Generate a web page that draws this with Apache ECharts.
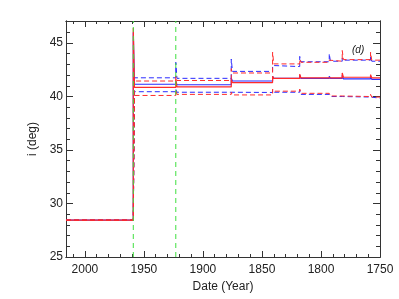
<!DOCTYPE html>
<html><head><meta charset="utf-8">
<script src="https://cdn.jsdelivr.net/npm/echarts@6/dist/echarts.min.js"></script>
<style>html,body{margin:0;padding:0;background:#fff}#c{width:399px;height:299px}</style>
</head><body><div id="c"></div>
<script>
// segment edges (years) and breakpoints
const edges = [2016, 1959, 1923, 1876, 1841, 1818, 1793, 1782, 1758, 1750];
const greenLines = [1959, 1923];
// segment values
const blueSolid = [28.45, 41.15, 41.1, 41.45, 41.7, 41.7, 41.7, 41.65, 41.6];
const redSolid  = [28.45, 40.85, 40.9, 41.3, 41.7, 41.75, 41.75, 41.8, 41.75];
const blueUpper = [28.45, 41.75, 41.7, 42.35, 42.8, 43.25, 43.3, 43.4, 43.3];
const redUpper  = [28.45, 41.45, 41.5, 42.2, 43.05, 43.2, 43.3, 43.45, 43.4];
const blueLower = [28.45, 40.45, 40.4, 40.38, 40.4, 40.2, 40.0, 39.95, 39.85];
const redLower  = [28.45, 40.1, 40.2, 40.15, 40.5, 40.3, 40.05, 40.0, 39.95];
// spikes at breakpoints
const blueSolidSpike = [46.0, 41.4, 41.7, 41.9, 42.0, 41.9, 42.0, 41.9];
const redSolidSpike  = [46.4, 41.6, 41.6, 41.9, 42.1, 41.9, 42.2, 42.05];
const blueUpperSpike = [null, 43.2, 43.5, 42.9, 43.75, 44.0, 43.6, 43.7];
const redUpperSpike  = [null, 41.9, 42.6, 44.15, 43.5, 43.4, 44.3, 44.15];
const blueLowerSpike = [null, 40.7, 40.5, 40.6, 40.6, 40.3, 40.1, 40.1];
const redLowerSpike  = [null, 40.6, 40.4, 40.7, 40.7, 40.4, 40.2, 40.2];
const xTicks = [2000, 1950, 1900, 1850, 1800, 1750];
const yTicks = [25, 30, 35, 40, 45];

function build(vals, sp) {
  const pts = [[edges[0], vals[0]]];
  for (let i = 0; i < sp.length; i++) {
    const bp = edges[i + 1];
    pts.push([bp, vals[i]]);
    if (sp[i] != null) pts.push([bp, sp[i]]);
    pts.push([bp - 1, vals[i + 1]]);
  }
  pts.push([edges[edges.length - 1], vals[vals.length - 1]]);
  return pts;
}
const BLUE = '#2b2bff', RED = '#ff2b2b', GREEN = '#3fe03f', AX = '#333';
function ln(data, color, dashed, w) {
  return {type: 'line', data, symbol: 'none', xAxisIndex: 0, yAxisIndex: 0, animation: false,
    lineStyle: {color, width: w, type: dashed ? [5, 3] : 'solid'}, z: 3};
}
const series = [
  ln(build(blueUpper, blueUpperSpike), BLUE, true, 1),
  ln(build(blueLower, blueLowerSpike), BLUE, true, 1),
  ln(build(blueSolid, blueSolidSpike), BLUE, false, 1.2),
  ln(build(redUpper, redUpperSpike), RED, true, 1),
  ln(build(redLower, redLowerSpike), RED, true, 1),
  ln(build(redSolid, redSolidSpike), RED, false, 1.2)
];
greenLines.forEach(g => series.push({type: 'line', symbol: 'none', animation: false, z: 4,
  data: [[g, 25], [g, 47.06]], lineStyle: {color: GREEN, width: 1, type: [5, 4]}}));

const xBase = {type: 'value', min: 1750, max: 2016, inverse: true, gridIndex: 0,
  axisLine: {show: true, lineStyle: {color: AX, width: 1}}, splitLine: {show: false}};
const yBase = {type: 'value', min: 25, max: 47.06, gridIndex: 0,
  axisLine: {show: true, lineStyle: {color: AX, width: 1}}, splitLine: {show: false}};
const lab = {fontFamily: 'Liberation Sans', fontSize: 12, color: '#222'};
const chart = echarts.init(document.getElementById('c'), null, {renderer: 'canvas'});
chart.setOption({
  animation: false,
  grid: {left: 66, right: 19, top: 21, bottom: 42},
  xAxis: [
    Object.assign({}, xBase, {position: 'bottom', interval: 50,
      axisTick: {inside: true, length: 6, lineStyle: {color: AX}},
      axisLabel: Object.assign({margin: 7, formatter: v => xTicks.includes(v) ? String(v) : ''}, lab),
      name: 'Date (Year)', nameLocation: 'middle', nameGap: 20,
      nameTextStyle: Object.assign({}, lab)}),
    Object.assign({}, xBase, {position: 'bottom', interval: 10,
      axisTick: {inside: true, length: 3, lineStyle: {color: AX}}, axisLabel: {show: false}}),
    Object.assign({}, xBase, {position: 'top', interval: 50,
      axisTick: {inside: true, length: 6, lineStyle: {color: AX}}, axisLabel: {show: false}}),
    Object.assign({}, xBase, {position: 'top', interval: 10,
      axisTick: {inside: true, length: 3, lineStyle: {color: AX}}, axisLabel: {show: false}})
  ],
  yAxis: [
    Object.assign({}, yBase, {position: 'left', interval: 5,
      axisTick: {inside: true, length: 7, lineStyle: {color: AX}},
      axisLabel: Object.assign({margin: 3, formatter: v => yTicks.includes(v) ? String(v) : ''}, lab),
      name: 'i (deg)', nameLocation: 'middle', nameGap: 22, nameRotate: 90,
      nameTextStyle: Object.assign({}, lab)}),
    Object.assign({}, yBase, {position: 'left', interval: 1,
      axisTick: {inside: true, length: 4, lineStyle: {color: AX}}, axisLabel: {show: false}}),
    Object.assign({}, yBase, {position: 'right', interval: 5,
      axisTick: {inside: true, length: 7, lineStyle: {color: AX}}, axisLabel: {show: false}}),
    Object.assign({}, yBase, {position: 'right', interval: 1,
      axisTick: {inside: true, length: 4, lineStyle: {color: AX}}, axisLabel: {show: false}})
  ],
  graphic: [{type: 'text', left: 352, top: 45, z: 10,
    style: {text: '(d)', fontFamily: 'Liberation Sans', fontSize: 10, fontStyle: 'italic', fill: '#222'}}],
  series
});
</script></body></html>
